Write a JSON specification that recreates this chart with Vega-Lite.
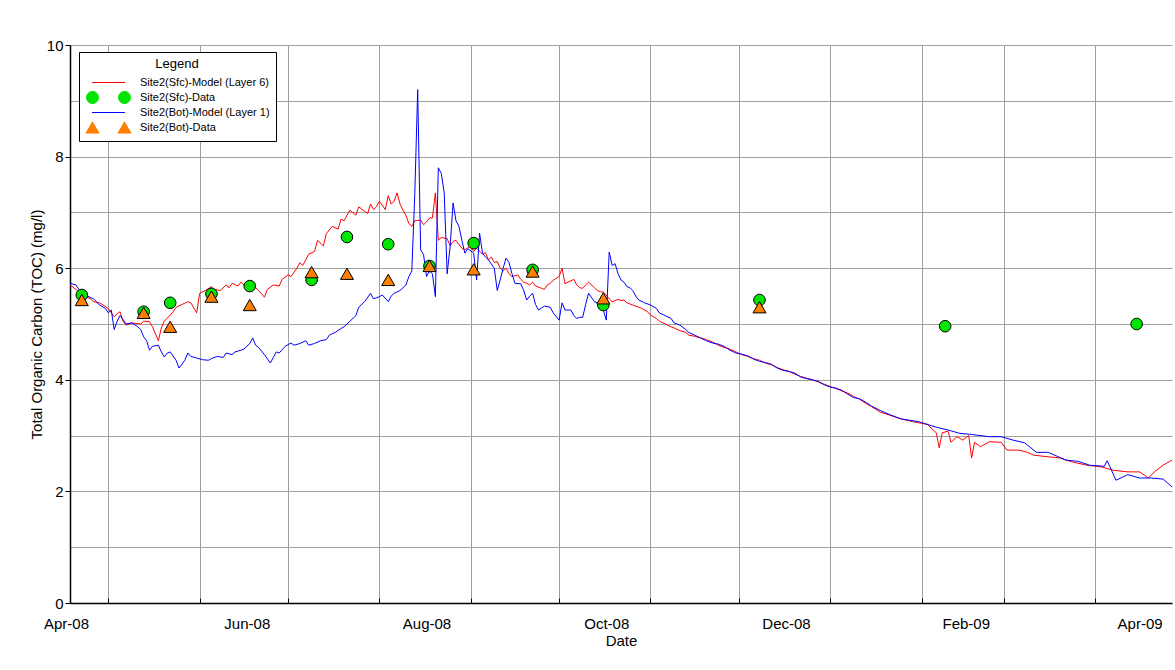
{
  "$schema": "https://vega.github.io/schema/vega-lite/v6.json",
  "width": 1102,
  "height": 558,
  "autosize": "none",
  "padding": {"left": 70, "top": 45, "right": 3, "bottom": 67},
  "background": "white",
  "config": {
    "font": "Liberation Sans",
    "view": {"stroke": null},
    "axis": {"labelFont": "Liberation Sans", "titleFont": "Liberation Sans", "labelColor": "black", "titleColor": "black", "titleFontWeight": "normal", "labelFontSize": 15, "titleFontSize": 15, "domainColor": "black", "domainWidth": 1.5, "gridColor": "#a0a0a0", "gridWidth": 1, "tickColor": "black"}
  },
  "datasets": {
    "sfcModel": [
      {"date":"2008-04-18","toc":5.70},{"date":"2008-04-20","toc":5.62},{"date":"2008-04-22","toc":5.52},{"date":"2008-04-25","toc":5.45},{"date":"2008-04-26","toc":5.40},{"date":"2008-04-28","toc":5.38},{"date":"2008-05-01","toc":5.28},{"date":"2008-05-03","toc":5.13},{"date":"2008-05-04","toc":5.18},{"date":"2008-05-05","toc":5.22},{"date":"2008-05-06","toc":5.05},{"date":"2008-05-07","toc":4.98},{"date":"2008-05-09","toc":5.02},{"date":"2008-05-12","toc":5.00},{"date":"2008-05-13","toc":5.05},{"date":"2008-05-15","toc":5.04},{"date":"2008-05-16","toc":4.95},{"date":"2008-05-18","toc":4.70},{"date":"2008-05-19","toc":4.93},{"date":"2008-05-20","toc":5.05},{"date":"2008-05-22","toc":5.16},{"date":"2008-05-23","toc":5.22},{"date":"2008-05-24","toc":5.30},{"date":"2008-05-26","toc":5.35},{"date":"2008-05-28","toc":5.40},{"date":"2008-05-29","toc":5.38},{"date":"2008-05-31","toc":5.20},
      {"date":"2008-06-01","toc":5.55},{"date":"2008-06-03","toc":5.60},{"date":"2008-06-05","toc":5.67},{"date":"2008-06-06","toc":5.62},{"date":"2008-06-08","toc":5.60},{"date":"2008-06-10","toc":5.70},{"date":"2008-06-11","toc":5.65},{"date":"2008-06-12","toc":5.73},{"date":"2008-06-14","toc":5.68},{"date":"2008-06-15","toc":5.75},{"date":"2008-06-17","toc":5.65},{"date":"2008-06-19","toc":5.70},{"date":"2008-06-21","toc":5.60},{"date":"2008-06-23","toc":5.48},{"date":"2008-06-24","toc":5.62},{"date":"2008-06-26","toc":5.70},{"date":"2008-06-28","toc":5.68},{"date":"2008-06-29","toc":5.80},
      {"date":"2008-07-01","toc":5.88},{"date":"2008-07-02","toc":5.85},{"date":"2008-07-04","toc":6.00},{"date":"2008-07-05","toc":6.10},{"date":"2008-07-06","toc":6.05},{"date":"2008-07-08","toc":6.25},{"date":"2008-07-10","toc":6.30},{"date":"2008-07-11","toc":6.50},{"date":"2008-07-13","toc":6.40},{"date":"2008-07-14","toc":6.62},{"date":"2008-07-16","toc":6.75},{"date":"2008-07-18","toc":6.70},{"date":"2008-07-19","toc":6.88},{"date":"2008-07-20","toc":6.85},{"date":"2008-07-22","toc":7.04},{"date":"2008-07-24","toc":6.95},{"date":"2008-07-25","toc":7.10},{"date":"2008-07-27","toc":7.02},{"date":"2008-07-28","toc":6.98},{"date":"2008-07-29","toc":7.15},{"date":"2008-07-30","toc":7.05},{"date":"2008-07-31","toc":7.10},
      {"date":"2008-08-01","toc":7.20},{"date":"2008-08-03","toc":7.05},{"date":"2008-08-04","toc":7.30},{"date":"2008-08-05","toc":7.15},{"date":"2008-08-06","toc":7.20},{"date":"2008-08-07","toc":7.35},{"date":"2008-08-08","toc":7.15},{"date":"2008-08-09","toc":7.04},{"date":"2008-08-10","toc":6.95},{"date":"2008-08-11","toc":6.80},{"date":"2008-08-12","toc":6.75},{"date":"2008-08-13","toc":6.85},{"date":"2008-08-15","toc":6.86},{"date":"2008-08-16","toc":6.78},{"date":"2008-08-17","toc":6.83},{"date":"2008-08-18","toc":6.90},{"date":"2008-08-19","toc":6.90},{"date":"2008-08-20","toc":7.35},{"date":"2008-08-21","toc":6.50},{"date":"2008-08-22","toc":6.55},{"date":"2008-08-24","toc":6.53},{"date":"2008-08-25","toc":6.40},{"date":"2008-08-26","toc":6.48},{"date":"2008-08-27","toc":6.50},{"date":"2008-08-28","toc":6.42},{"date":"2008-08-29","toc":6.36},{"date":"2008-08-30","toc":6.33},
      {"date":"2008-09-01","toc":6.40},{"date":"2008-09-02","toc":6.30},{"date":"2008-09-03","toc":6.36},{"date":"2008-09-05","toc":6.25},{"date":"2008-09-06","toc":6.28},{"date":"2008-09-07","toc":6.15},{"date":"2008-09-08","toc":6.20},{"date":"2008-09-09","toc":6.10},{"date":"2008-09-10","toc":6.12},{"date":"2008-09-11","toc":6.00},{"date":"2008-09-12","toc":5.95},{"date":"2008-09-13","toc":6.00},{"date":"2008-09-14","toc":5.90},{"date":"2008-09-15","toc":5.85},{"date":"2008-09-17","toc":5.88},{"date":"2008-09-18","toc":5.80},{"date":"2008-09-19","toc":5.75},{"date":"2008-09-20","toc":5.73},{"date":"2008-09-21","toc":5.70},{"date":"2008-09-22","toc":5.75},{"date":"2008-09-23","toc":5.68},{"date":"2008-09-25","toc":5.64},{"date":"2008-09-26","toc":5.62},{"date":"2008-09-27","toc":5.70},{"date":"2008-09-28","toc":5.73},{"date":"2008-09-29","toc":5.78},{"date":"2008-09-30","toc":5.82},
      {"date":"2008-10-01","toc":5.85},{"date":"2008-10-02","toc":6.00},{"date":"2008-10-03","toc":5.72},{"date":"2008-10-04","toc":5.75},{"date":"2008-10-06","toc":5.80},{"date":"2008-10-07","toc":5.70},{"date":"2008-10-08","toc":5.65},{"date":"2008-10-09","toc":5.64},{"date":"2008-10-10","toc":5.70},{"date":"2008-10-11","toc":5.75},{"date":"2008-10-13","toc":5.65},{"date":"2008-10-14","toc":5.60},{"date":"2008-10-15","toc":5.58},{"date":"2008-10-16","toc":5.57},{"date":"2008-10-17","toc":5.52},{"date":"2008-10-18","toc":5.45},{"date":"2008-10-19","toc":5.40},{"date":"2008-10-21","toc":5.44},{"date":"2008-10-22","toc":5.42},{"date":"2008-10-23","toc":5.43},{"date":"2008-10-24","toc":5.38},{"date":"2008-10-25","toc":5.36},{"date":"2008-10-26","toc":5.34},{"date":"2008-10-27","toc":5.32},{"date":"2008-10-28","toc":5.30},{"date":"2008-10-29","toc":5.28},{"date":"2008-10-31","toc":5.22},
      {"date":"2008-11-01","toc":5.16},{"date":"2008-11-03","toc":5.10},{"date":"2008-11-04","toc":5.05},{"date":"2008-11-06","toc":5.00},{"date":"2008-11-08","toc":4.95},{"date":"2008-11-09","toc":4.93},{"date":"2008-11-11","toc":4.88},{"date":"2008-11-13","toc":4.85},{"date":"2008-11-14","toc":4.80},{"date":"2008-11-16","toc":4.78},{"date":"2008-11-18","toc":4.75},{"date":"2008-11-20","toc":4.72},{"date":"2008-11-22","toc":4.68},{"date":"2008-11-24","toc":4.62},{"date":"2008-11-26","toc":4.58},{"date":"2008-11-28","toc":4.55},{"date":"2008-11-30","toc":4.50},
      {"date":"2008-12-02","toc":4.45},{"date":"2008-12-04","toc":4.42},{"date":"2008-12-06","toc":4.38},{"date":"2008-12-08","toc":4.35},{"date":"2008-12-10","toc":4.30},{"date":"2008-12-12","toc":4.27},{"date":"2008-12-14","toc":4.22},{"date":"2008-12-16","toc":4.18},{"date":"2008-12-18","toc":4.15},{"date":"2008-12-20","toc":4.10},{"date":"2008-12-22","toc":4.06},{"date":"2008-12-24","toc":4.03},{"date":"2008-12-26","toc":4.00},{"date":"2008-12-28","toc":3.96},{"date":"2008-12-30","toc":3.92},
      {"date":"2009-01-01","toc":3.88},{"date":"2009-01-03","toc":3.84},{"date":"2009-01-05","toc":3.80},{"date":"2009-01-07","toc":3.76},{"date":"2009-01-09","toc":3.70},{"date":"2009-01-11","toc":3.65},{"date":"2009-01-13","toc":3.58},{"date":"2009-01-15","toc":3.52},{"date":"2009-01-18","toc":3.42},{"date":"2009-01-21","toc":3.37},{"date":"2009-01-25","toc":3.30},{"date":"2009-01-29","toc":3.25},
      {"date":"2009-02-01","toc":3.22},{"date":"2009-02-03","toc":3.20},{"date":"2009-02-06","toc":3.05},{"date":"2009-02-07","toc":2.78},{"date":"2009-02-08","toc":3.05},{"date":"2009-02-10","toc":3.08},{"date":"2009-02-11","toc":2.88},{"date":"2009-02-13","toc":2.98},{"date":"2009-02-15","toc":2.92},{"date":"2009-02-17","toc":3.00},{"date":"2009-02-18","toc":2.60},{"date":"2009-02-19","toc":2.88},{"date":"2009-02-21","toc":2.80},{"date":"2009-02-24","toc":2.89},{"date":"2009-02-28","toc":2.88},
      {"date":"2009-03-02","toc":2.74},{"date":"2009-03-06","toc":2.74},{"date":"2009-03-09","toc":2.70},{"date":"2009-03-11","toc":2.65},{"date":"2009-03-16","toc":2.62},{"date":"2009-03-20","toc":2.60},{"date":"2009-03-24","toc":2.53},{"date":"2009-03-29","toc":2.47},
      {"date":"2009-04-03","toc":2.44},{"date":"2009-04-07","toc":2.38},{"date":"2009-04-12","toc":2.35},{"date":"2009-04-16","toc":2.35},{"date":"2009-04-19","toc":2.24},{"date":"2009-04-21","toc":2.35},{"date":"2009-04-24","toc":2.47},{"date":"2009-04-27","toc":2.56}
    ],
    "botModel": [
      {"date":"2008-04-18","toc":5.73},{"date":"2008-04-20","toc":5.70},{"date":"2008-04-21","toc":5.62},{"date":"2008-04-22","toc":5.57},{"date":"2008-04-24","toc":5.50},{"date":"2008-04-26","toc":5.45},{"date":"2008-04-27","toc":5.40},{"date":"2008-04-28","toc":5.34},{"date":"2008-04-30","toc":5.28},{"date":"2008-05-01","toc":5.20},{"date":"2008-05-02","toc":5.25},{"date":"2008-05-03","toc":4.90},{"date":"2008-05-04","toc":5.05},{"date":"2008-05-05","toc":5.15},{"date":"2008-05-06","toc":5.08},{"date":"2008-05-07","toc":5.00},{"date":"2008-05-09","toc":5.02},{"date":"2008-05-11","toc":4.95},{"date":"2008-05-12","toc":4.90},{"date":"2008-05-13","toc":4.77},{"date":"2008-05-14","toc":4.70},{"date":"2008-05-15","toc":4.53},{"date":"2008-05-16","toc":4.60},{"date":"2008-05-18","toc":4.62},{"date":"2008-05-19","toc":4.50},{"date":"2008-05-20","toc":4.41},{"date":"2008-05-21","toc":4.48},{"date":"2008-05-22","toc":4.50},{"date":"2008-05-24","toc":4.35},{"date":"2008-05-25","toc":4.21},{"date":"2008-05-27","toc":4.35},{"date":"2008-05-28","toc":4.48},{"date":"2008-05-29","toc":4.42},{"date":"2008-05-31","toc":4.39},
      {"date":"2008-06-02","toc":4.36},{"date":"2008-06-04","toc":4.35},{"date":"2008-06-05","toc":4.38},{"date":"2008-06-07","toc":4.42},{"date":"2008-06-09","toc":4.40},{"date":"2008-06-10","toc":4.48},{"date":"2008-06-12","toc":4.45},{"date":"2008-06-13","toc":4.50},{"date":"2008-06-15","toc":4.53},{"date":"2008-06-16","toc":4.55},{"date":"2008-06-18","toc":4.65},{"date":"2008-06-19","toc":4.75},{"date":"2008-06-20","toc":4.62},{"date":"2008-06-21","toc":4.58},{"date":"2008-06-23","toc":4.45},{"date":"2008-06-25","toc":4.30},{"date":"2008-06-26","toc":4.40},{"date":"2008-06-27","toc":4.50},{"date":"2008-06-28","toc":4.48},{"date":"2008-06-30","toc":4.60},
      {"date":"2008-07-02","toc":4.66},{"date":"2008-07-03","toc":4.62},{"date":"2008-07-05","toc":4.65},{"date":"2008-07-07","toc":4.70},{"date":"2008-07-08","toc":4.62},{"date":"2008-07-10","toc":4.65},{"date":"2008-07-12","toc":4.70},{"date":"2008-07-14","toc":4.72},{"date":"2008-07-15","toc":4.80},{"date":"2008-07-17","toc":4.85},{"date":"2008-07-19","toc":4.92},{"date":"2008-07-20","toc":4.95},{"date":"2008-07-22","toc":5.05},{"date":"2008-07-24","toc":5.15},{"date":"2008-07-25","toc":5.30},{"date":"2008-07-27","toc":5.40},{"date":"2008-07-29","toc":5.55},{"date":"2008-07-30","toc":5.45},
      {"date":"2008-08-01","toc":5.49},{"date":"2008-08-02","toc":5.52},{"date":"2008-08-04","toc":5.40},{"date":"2008-08-05","toc":5.50},{"date":"2008-08-06","toc":5.55},{"date":"2008-08-08","toc":5.60},{"date":"2008-08-10","toc":5.70},{"date":"2008-08-11","toc":5.85},{"date":"2008-08-12","toc":5.95},{"date":"2008-08-13","toc":7.30},{"date":"2008-08-14","toc":9.20},{"date":"2008-08-15","toc":6.33},{"date":"2008-08-16","toc":6.24},{"date":"2008-08-17","toc":5.85},{"date":"2008-08-18","toc":5.95},{"date":"2008-08-19","toc":5.90},{"date":"2008-08-20","toc":5.49},{"date":"2008-08-21","toc":7.80},{"date":"2008-08-22","toc":7.70},{"date":"2008-08-23","toc":7.35},{"date":"2008-08-24","toc":5.90},{"date":"2008-08-25","toc":6.38},{"date":"2008-08-26","toc":7.17},{"date":"2008-08-27","toc":6.85},{"date":"2008-08-28","toc":6.75},{"date":"2008-08-29","toc":6.50},{"date":"2008-08-30","toc":6.27},{"date":"2008-08-31","toc":6.35},
      {"date":"2008-09-02","toc":6.27},{"date":"2008-09-03","toc":5.79},{"date":"2008-09-04","toc":6.63},{"date":"2008-09-05","toc":6.27},{"date":"2008-09-06","toc":6.20},{"date":"2008-09-07","toc":6.15},{"date":"2008-09-09","toc":6.00},{"date":"2008-09-10","toc":5.60},{"date":"2008-09-11","toc":5.79},{"date":"2008-09-12","toc":6.00},{"date":"2008-09-13","toc":6.18},{"date":"2008-09-14","toc":6.10},{"date":"2008-09-15","toc":5.90},{"date":"2008-09-16","toc":5.73},{"date":"2008-09-18","toc":5.72},{"date":"2008-09-19","toc":5.60},{"date":"2008-09-20","toc":5.43},{"date":"2008-09-21","toc":5.50},{"date":"2008-09-22","toc":5.55},{"date":"2008-09-23","toc":5.35},{"date":"2008-09-24","toc":5.25},{"date":"2008-09-26","toc":5.32},{"date":"2008-09-28","toc":5.30},{"date":"2008-09-29","toc":5.20},
      {"date":"2008-10-01","toc":5.07},{"date":"2008-10-02","toc":5.38},{"date":"2008-10-03","toc":5.25},{"date":"2008-10-05","toc":5.25},{"date":"2008-10-06","toc":5.15},{"date":"2008-10-07","toc":5.10},{"date":"2008-10-08","toc":5.12},{"date":"2008-10-09","toc":5.12},{"date":"2008-10-10","toc":5.35},{"date":"2008-10-11","toc":5.55},{"date":"2008-10-13","toc":5.40},{"date":"2008-10-14","toc":5.38},{"date":"2008-10-15","toc":5.30},{"date":"2008-10-16","toc":5.25},{"date":"2008-10-17","toc":5.07},{"date":"2008-10-18","toc":6.29},{"date":"2008-10-19","toc":6.05},{"date":"2008-10-20","toc":6.08},{"date":"2008-10-21","toc":5.90},{"date":"2008-10-22","toc":5.79},{"date":"2008-10-23","toc":5.75},{"date":"2008-10-24","toc":5.67},{"date":"2008-10-25","toc":5.65},{"date":"2008-10-26","toc":5.60},{"date":"2008-10-27","toc":5.50},{"date":"2008-10-28","toc":5.43},{"date":"2008-10-30","toc":5.38},
      {"date":"2008-11-01","toc":5.34},{"date":"2008-11-03","toc":5.28},{"date":"2008-11-04","toc":5.20},{"date":"2008-11-06","toc":5.15},{"date":"2008-11-08","toc":5.10},{"date":"2008-11-09","toc":5.02},{"date":"2008-11-11","toc":4.98},{"date":"2008-11-13","toc":4.90},{"date":"2008-11-14","toc":4.85},{"date":"2008-11-16","toc":4.80},{"date":"2008-11-18","toc":4.75},{"date":"2008-11-20","toc":4.70},{"date":"2008-11-22","toc":4.66},{"date":"2008-11-24","toc":4.64},{"date":"2008-11-26","toc":4.60},{"date":"2008-11-28","toc":4.53},{"date":"2008-11-30","toc":4.48},
      {"date":"2008-12-02","toc":4.46},{"date":"2008-12-04","toc":4.43},{"date":"2008-12-06","toc":4.37},{"date":"2008-12-08","toc":4.33},{"date":"2008-12-10","toc":4.31},{"date":"2008-12-12","toc":4.28},{"date":"2008-12-14","toc":4.21},{"date":"2008-12-16","toc":4.17},{"date":"2008-12-18","toc":4.15},{"date":"2008-12-20","toc":4.12},{"date":"2008-12-22","toc":4.05},{"date":"2008-12-24","toc":4.02},{"date":"2008-12-26","toc":4.00},{"date":"2008-12-28","toc":3.97},{"date":"2008-12-30","toc":3.91},
      {"date":"2009-01-01","toc":3.87},{"date":"2009-01-03","toc":3.85},{"date":"2009-01-05","toc":3.81},{"date":"2009-01-07","toc":3.74},{"date":"2009-01-09","toc":3.68},{"date":"2009-01-11","toc":3.66},{"date":"2009-01-13","toc":3.60},{"date":"2009-01-15","toc":3.53},{"date":"2009-01-18","toc":3.45},{"date":"2009-01-21","toc":3.38},{"date":"2009-01-25","toc":3.30},{"date":"2009-01-31","toc":3.25},
      {"date":"2009-02-06","toc":3.15},{"date":"2009-02-10","toc":3.10},{"date":"2009-02-14","toc":3.04},{"date":"2009-02-18","toc":3.02},{"date":"2009-02-24","toc":2.98},{"date":"2009-02-28","toc":2.98},
      {"date":"2009-03-04","toc":2.92},{"date":"2009-03-08","toc":2.87},{"date":"2009-03-12","toc":2.70},{"date":"2009-03-16","toc":2.70},{"date":"2009-03-22","toc":2.56},{"date":"2009-03-26","toc":2.54},{"date":"2009-03-30","toc":2.47},
      {"date":"2009-04-04","toc":2.45},{"date":"2009-04-05","toc":2.55},{"date":"2009-04-08","toc":2.20},{"date":"2009-04-12","toc":2.30},{"date":"2009-04-16","toc":2.24},{"date":"2009-04-20","toc":2.24},{"date":"2009-04-24","toc":2.22},{"date":"2009-04-27","toc":2.08}
    ],
    "sfcData": [
      {"date":"2008-04-22","toc":5.52},{"date":"2008-05-13","toc":5.22},{"date":"2008-05-22","toc":5.38},{"date":"2008-06-05","toc":5.54},{"date":"2008-06-18","toc":5.68},{"date":"2008-07-09","toc":5.79},{"date":"2008-07-21","toc":6.56},{"date":"2008-08-04","toc":6.43},{"date":"2008-08-18","toc":6.04},{"date":"2008-09-02","toc":6.45},{"date":"2008-09-22","toc":5.97},{"date":"2008-10-16","toc":5.34},{"date":"2008-12-08","toc":5.43},{"date":"2009-02-09","toc":4.96},{"date":"2009-04-15","toc":5.00}
    ],
    "botData": [
      {"date":"2008-04-22","toc":5.43},{"date":"2008-05-13","toc":5.20},{"date":"2008-05-22","toc":4.95},{"date":"2008-06-05","toc":5.49},{"date":"2008-06-18","toc":5.34},{"date":"2008-07-09","toc":5.93},{"date":"2008-07-21","toc":5.90},{"date":"2008-08-04","toc":5.79},{"date":"2008-08-18","toc":6.04},{"date":"2008-09-02","toc":5.98},{"date":"2008-09-22","toc":5.94},{"date":"2008-10-16","toc":5.46},{"date":"2008-12-08","toc":5.30}
    ]
  },
  "encoding": {
    "y": {
      "field": "toc", "type": "quantitative", "title": "Total Organic Carbon (TOC) (mg/l)",
      "scale": {"domain": [0, 10], "nice": false},
      "axis": {
        "values": [0,1,2,3,4,5,6,7,8,9,10],
        "labelExpr": "datum.value % 2 == 0 ? datum.label : ''",
        "tickSize": 5, "labelPadding": 2, "titlePadding": 2,
        "tickOpacity": {"condition": {"test": "datum.value % 2 == 0", "value": 1}, "value": 0}
      }
    },
    "color": {
      "scale": {
        "domain": ["Site2(Sfc)-Model (Layer 6)", "Site2(Sfc)-Data", "Site2(Bot)-Model (Layer 1)", "Site2(Bot)-Data"],
        "range": ["#ff0000", "#00e600", "#0000ff", "#ff8000"]
      },
      "legend": {
        "orient": "none", "legendX": 9, "legendY": 7,
        "title": "Legend", "titleAnchor": "middle", "titleFontSize": 13, "titleFontWeight": "normal", "titleFont": "Liberation Sans", "titleColor": "black", "titlePadding": 4,
        "labelFont": "Liberation Sans", "labelFontSize": 11, "labelColor": "black", "labelOffset": 11,
        "symbolSize": 1600, "symbolOffset": 3, "clipHeight": 15, "rowPadding": 0,
        "fillColor": "white", "strokeColor": "black", "padding": 6,
        "encode": {
          "symbols": {
            "update": {
              "shape": {"signal": "datum.value === 'Site2(Sfc)-Data' ? 'M -0.5 0 A 0.3 0.3 0 1 1 -1.1 0 A 0.3 0.3 0 1 1 -0.5 0 Z M 1.1 0 A 0.3 0.3 0 1 1 0.5 0 A 0.3 0.3 0 1 1 1.1 0 Z' : datum.value === 'Site2(Bot)-Data' ? 'M -0.8 -0.28 L -1.125 0.28 L -0.475 0.28 Z M 0.8 -0.28 L 0.475 0.28 L 1.125 0.28 Z' : 'M -0.825 0 L 0.825 0'"},
              "fill": {"signal": "datum.value === 'Site2(Sfc)-Data' ? '#00e600' : datum.value === 'Site2(Bot)-Data' ? '#ff8000' : 'transparent'"},
              "stroke": {"signal": "datum.value === 'Site2(Sfc)-Model (Layer 6)' ? '#ff0000' : datum.value === 'Site2(Bot)-Model (Layer 1)' ? '#0000ff' : '#000000'"},
              "size": {"value": 1600},
              "strokeWidth": {"value": 1},
              "opacity": {"value": 1},
              "fillOpacity": {"value": 1},
              "strokeOpacity": {"value": 1}
            }
          }
        }
      }
    }
  },
  "resolve": {"scale": {"x": "shared"}, "axis": {"x": "independent"}},
  "layer": [
    {
      "data": {"name": "sfcModel"},
      "mark": {"type": "line", "strokeWidth": 1},
      "encoding": {
        "x": {
          "field": "date", "type": "temporal",
          "scale": {"domain": [{"year": 2008, "month": 4, "date": 18}, {"year": 2009, "month": 4, "date": 27}]},
          "axis": {
            "orient": "bottom", "title": null, "labels": false, "grid": true, "domain": true, "ticks": true, "tickSize": -5,
            "values": [{"year":2008,"month":5,"date":1},{"year":2008,"month":6,"date":1},{"year":2008,"month":7,"date":1},{"year":2008,"month":8,"date":1},{"year":2008,"month":9,"date":1},{"year":2008,"month":10,"date":1},{"year":2008,"month":11,"date":1},{"year":2008,"month":12,"date":1},{"year":2009,"month":1,"date":1},{"year":2009,"month":2,"date":1},{"year":2009,"month":3,"date":1},{"year":2009,"month":4,"date":1}]
          }
        },
        "color": {"datum": "Site2(Sfc)-Model (Layer 6)"}
      }
    },
    {
      "data": {"name": "botModel"},
      "mark": {"type": "line", "strokeWidth": 1},
      "encoding": {
        "x": {"field": "date", "type": "temporal", "axis": null},
        "color": {"datum": "Site2(Bot)-Model (Layer 1)"}
      }
    },
    {
      "data": {"name": "sfcData"},
      "mark": {"type": "point", "shape": "circle", "filled": true, "size": 135, "stroke": "black", "strokeWidth": 1, "opacity": 1},
      "encoding": {
        "x": {
          "field": "date", "type": "temporal", "title": "Date",
          "axis": {
            "orient": "bottom", "grid": false, "ticks": false, "domain": false,
            "values": [{"year":2008,"month":4,"date":18},{"year":2008,"month":6,"date":17},{"year":2008,"month":8,"date":17},{"year":2008,"month":10,"date":17},{"year":2008,"month":12,"date":17},{"year":2009,"month":2,"date":16},{"year":2009,"month":4,"date":16}],
            "format": "%b-%y", "labelFlush": false, "labelOverlap": false, "labelBound": false,
            "labelOffset": {"condition": {"test": "year(datum.value) == 2008 && month(datum.value) == 3", "value": -4}, "value": 0},
            "labelPadding": 13, "titlePadding": 2
          }
        },
        "color": {"datum": "Site2(Sfc)-Data"}
      }
    },
    {
      "data": {"name": "botData"},
      "mark": {"type": "point", "shape": "triangle-up", "filled": true, "size": 170, "stroke": "black", "strokeWidth": 1, "opacity": 1},
      "encoding": {
        "x": {"field": "date", "type": "temporal", "axis": null},
        "color": {"datum": "Site2(Bot)-Data"}
      }
    }
  ]
}
